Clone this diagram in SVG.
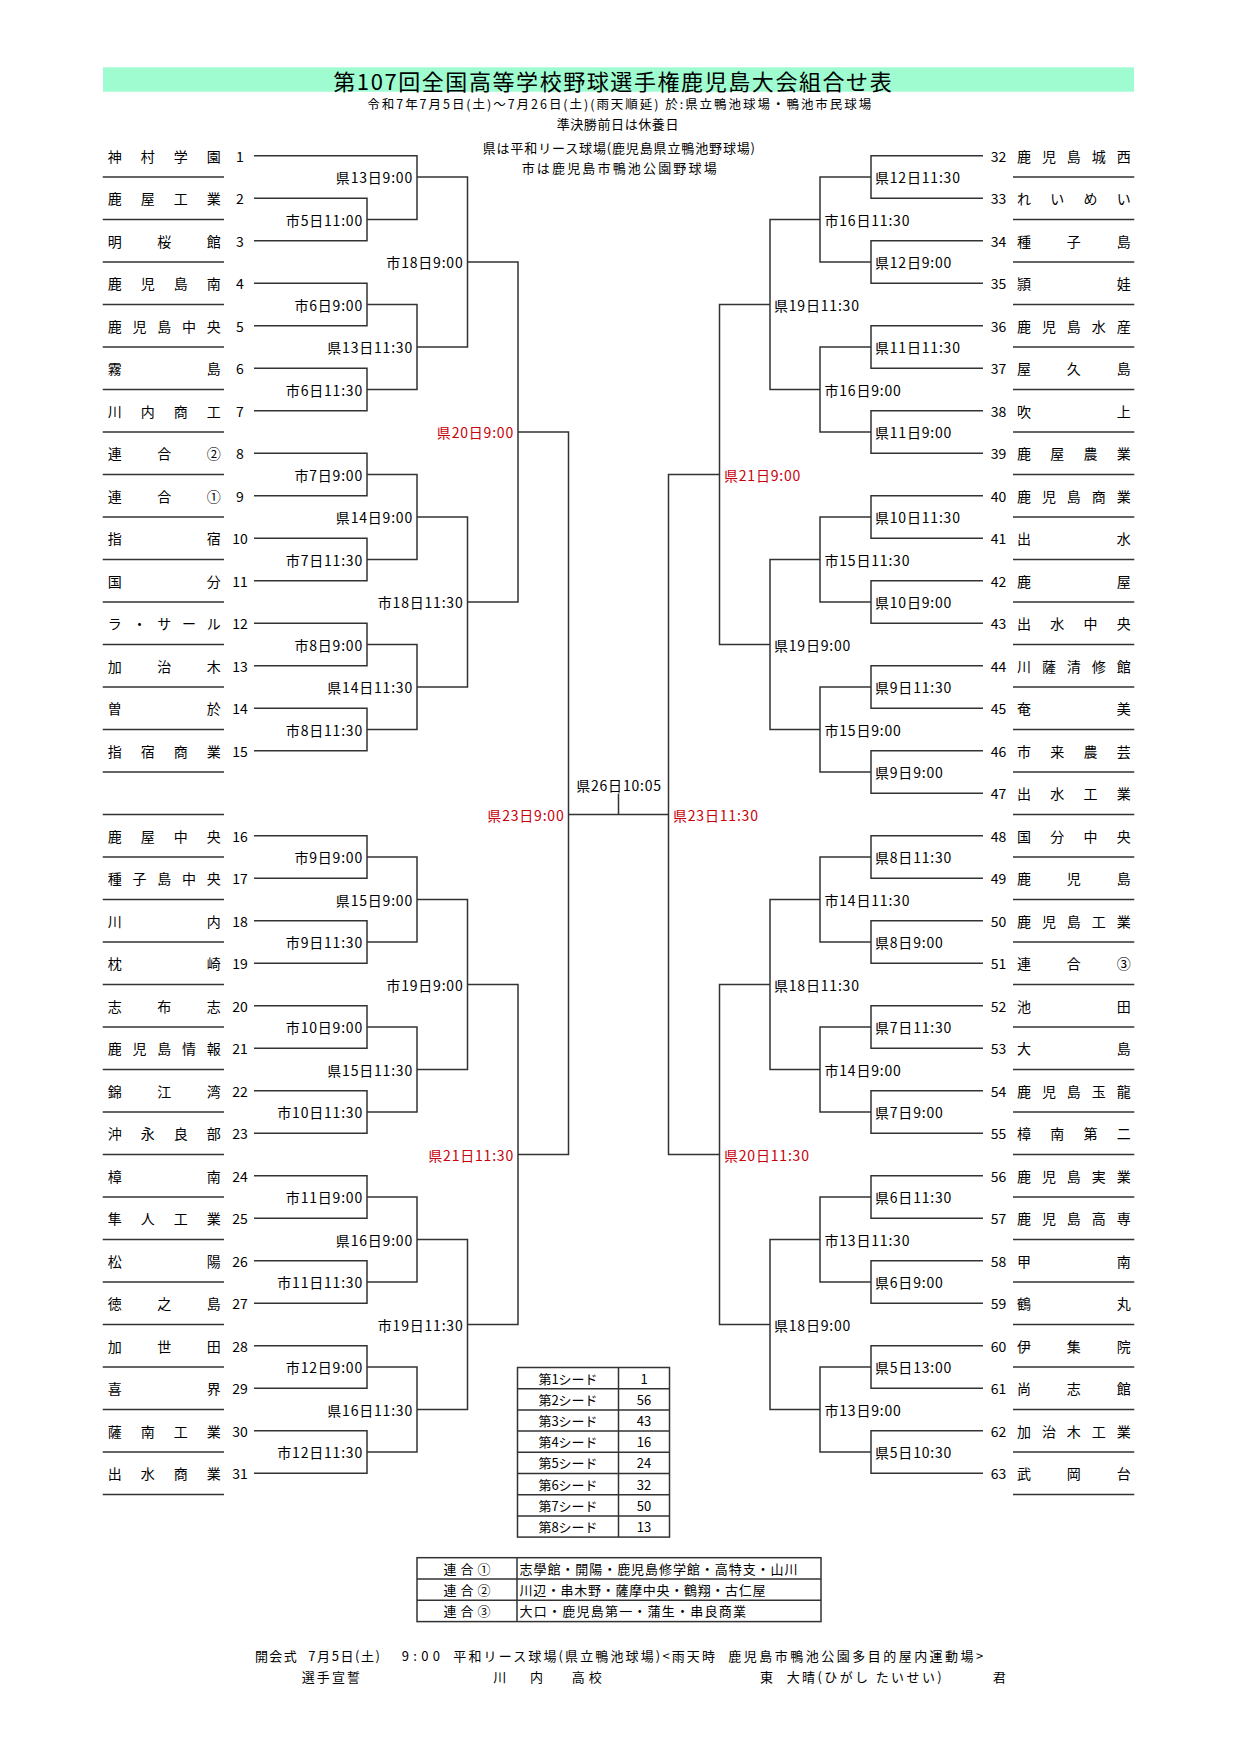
<svg xmlns="http://www.w3.org/2000/svg" width="1240" height="1754" viewBox="0 0 1240 1754">
<style>
text{font-family:"Noto Sans CJK JP","Noto Sans CJK SC",sans-serif;fill:#000;dominant-baseline:central}
.nm{font-size:14px}
.no{font-size:14px;text-anchor:middle}
.lb{font-size:14px;letter-spacing:0.8px}
.e{text-anchor:end}
.red{fill:#c8000a}
.hd{font-size:13px}
.ln{fill:none;stroke:#333;stroke-width:1.5}
.ul{fill:none;stroke:#333;stroke-width:1.4}
.tb{fill:none;stroke:#333;stroke-width:1.5}
.sm{font-size:13px}
.c{text-anchor:middle}
</style>
<rect width="1240" height="1754" fill="#fff"/>

<g id="header">
<rect x="103" y="67.3" width="1031" height="24.4" fill="#9ffcd0"/>
<text x="333.3" y="79.5" font-size="22" textLength="558.4">第107回全国高等学校野球選手権鹿児島大会組合せ表</text>
<text x="367.3" y="103.3" font-size="12.5" textLength="504">令和7年7月5日(土)～7月26日(土)(雨天順延) 於:県立鴨池球場・鴨池市民球場</text>
<text class="hd" x="556.7" y="123.3" textLength="121.7">準決勝前日は休養日</text>
<text class="hd" x="482.7" y="147.3" textLength="272.3">県は平和リース球場(鹿児島県立鴨池野球場)</text>
<text class="hd" x="521.7" y="167.3" textLength="195">市は鹿児島市鴨池公園野球場</text>
</g>

<g id="underlines">
<path class="ul" d="M102.7 177H224M102.7 219.5H224M102.7 262H224M102.7 304.5H224M102.7 347H224M102.7 389.5H224M102.7 432H224M102.7 474.5H224M102.7 517H224M102.7 559.5H224M102.7 602H224M102.7 644.5H224M102.7 687H224M102.7 729.5H224M102.7 772H224M102.7 814.5H224M102.7 857H224M102.7 899.5H224M102.7 942H224M102.7 984.5H224M102.7 1027H224M102.7 1069.5H224M102.7 1112H224M102.7 1154.5H224M102.7 1197H224M102.7 1239.5H224M102.7 1282H224M102.7 1324.5H224M102.7 1367H224M102.7 1409.5H224M102.7 1452H224M102.7 1494.5H224"/>
<path class="ul" d="M1013 177H1134.3M1013 219.5H1134.3M1013 262H1134.3M1013 304.5H1134.3M1013 347H1134.3M1013 389.5H1134.3M1013 432H1134.3M1013 474.5H1134.3M1013 517H1134.3M1013 559.5H1134.3M1013 602H1134.3M1013 644.5H1134.3M1013 687H1134.3M1013 729.5H1134.3M1013 772H1134.3M1013 814.5H1134.3M1013 857H1134.3M1013 899.5H1134.3M1013 942H1134.3M1013 984.5H1134.3M1013 1027H1134.3M1013 1069.5H1134.3M1013 1112H1134.3M1013 1154.5H1134.3M1013 1197H1134.3M1013 1239.5H1134.3M1013 1282H1134.3M1013 1324.5H1134.3M1013 1367H1134.3M1013 1409.5H1134.3M1013 1452H1134.3M1013 1494.5H1134.3"/>
</g>

<g id="connectors">
<path class="ln" d="M254 198.25H367V240.75H254"/>
<path class="ln" d="M254 283.25H367V325.75H254"/>
<path class="ln" d="M254 368.25H367V410.75H254"/>
<path class="ln" d="M254 453.25H367V495.75H254"/>
<path class="ln" d="M254 538.25H367V580.75H254"/>
<path class="ln" d="M254 623.25H367V665.75H254"/>
<path class="ln" d="M254 708.25H367V750.75H254"/>
<path class="ln" d="M254 835.75H367V878.25H254"/>
<path class="ln" d="M254 920.75H367V963.25H254"/>
<path class="ln" d="M254 1005.75H367V1048.25H254"/>
<path class="ln" d="M254 1090.75H367V1133.25H254"/>
<path class="ln" d="M254 1175.75H367V1218.25H254"/>
<path class="ln" d="M254 1260.75H367V1303.25H254"/>
<path class="ln" d="M254 1345.75H367V1388.25H254"/>
<path class="ln" d="M254 1430.75H367V1473.25H254"/>
<path class="ln" d="M254 155.75H417V219.5H367"/>
<path class="ln" d="M367 304.5H417V389.5H367"/>
<path class="ln" d="M367 474.5H417V559.5H367"/>
<path class="ln" d="M367 644.5H417V729.5H367"/>
<path class="ln" d="M367 857H417V942H367"/>
<path class="ln" d="M367 1027H417V1112H367"/>
<path class="ln" d="M367 1197H417V1282H367"/>
<path class="ln" d="M367 1367H417V1452H367"/>
<path class="ln" d="M417 177H467.5V347H417"/>
<path class="ln" d="M417 517H467.5V687H417"/>
<path class="ln" d="M417 899.5H467.5V1069.5H417"/>
<path class="ln" d="M417 1239.5H467.5V1409.5H417"/>
<path class="ln" d="M467.5 262H518V602H467.5"/>
<path class="ln" d="M467.5 984.5H518V1324.5H467.5"/>
<path class="ln" d="M518 432H568.5V1154.5H518"/>
<path class="ln" d="M983 155.75H871V198.25H983"/>
<path class="ln" d="M983 240.75H871V283.25H983"/>
<path class="ln" d="M983 325.75H871V368.25H983"/>
<path class="ln" d="M983 410.75H871V453.25H983"/>
<path class="ln" d="M983 495.75H871V538.25H983"/>
<path class="ln" d="M983 580.75H871V623.25H983"/>
<path class="ln" d="M983 665.75H871V708.25H983"/>
<path class="ln" d="M983 750.75H871V793.25H983"/>
<path class="ln" d="M983 835.75H871V878.25H983"/>
<path class="ln" d="M983 920.75H871V963.25H983"/>
<path class="ln" d="M983 1005.75H871V1048.25H983"/>
<path class="ln" d="M983 1090.75H871V1133.25H983"/>
<path class="ln" d="M983 1175.75H871V1218.25H983"/>
<path class="ln" d="M983 1260.75H871V1303.25H983"/>
<path class="ln" d="M983 1345.75H871V1388.25H983"/>
<path class="ln" d="M983 1430.75H871V1473.25H983"/>
<path class="ln" d="M871 177H820V262H871"/>
<path class="ln" d="M871 347H820V432H871"/>
<path class="ln" d="M871 517H820V602H871"/>
<path class="ln" d="M871 687H820V772H871"/>
<path class="ln" d="M871 857H820V942H871"/>
<path class="ln" d="M871 1027H820V1112H871"/>
<path class="ln" d="M871 1197H820V1282H871"/>
<path class="ln" d="M871 1367H820V1452H871"/>
<path class="ln" d="M820 219.5H770V389.5H820"/>
<path class="ln" d="M820 559.5H770V729.5H820"/>
<path class="ln" d="M820 899.5H770V1069.5H820"/>
<path class="ln" d="M820 1239.5H770V1409.5H820"/>
<path class="ln" d="M770 304.5H719.5V644.5H770"/>
<path class="ln" d="M770 984.5H719.5V1324.5H770"/>
<path class="ln" d="M719.5 474.5H668.5V1154.5H719.5"/>
<path class="ln" d="M568.5 814.5H668.5M618.5 793.5V814.5"/>
</g>

<g id="teams-left">
<g id="team-1" transform="translate(0 155.75)"><text class="nm" x="107.7 140.7 173.7 206.7">神村学園</text><text class="no" x="240">1</text></g>
<g id="team-2" transform="translate(0 198.25)"><text class="nm" x="107.7 140.7 173.7 206.7">鹿屋工業</text><text class="no" x="240">2</text></g>
<g id="team-3" transform="translate(0 240.75)"><text class="nm" x="107.7 157.2 206.7">明桜館</text><text class="no" x="240">3</text></g>
<g id="team-4" transform="translate(0 283.25)"><text class="nm" x="107.7 140.7 173.7 206.7">鹿児島南</text><text class="no" x="240">4</text></g>
<g id="team-5" transform="translate(0 325.75)"><text class="nm" x="107.7 132.45 157.2 181.95 206.7">鹿児島中央</text><text class="no" x="240">5</text></g>
<g id="team-6" transform="translate(0 368.25)"><text class="nm" x="107.7 206.7">霧島</text><text class="no" x="240">6</text></g>
<g id="team-7" transform="translate(0 410.75)"><text class="nm" x="107.7 140.7 173.7 206.7">川内商工</text><text class="no" x="240">7</text></g>
<g id="team-8" transform="translate(0 453.25)"><text class="nm" x="107.7 157.2 206.7">連合②</text><text class="no" x="240">8</text></g>
<g id="team-9" transform="translate(0 495.75)"><text class="nm" x="107.7 157.2 206.7">連合①</text><text class="no" x="240">9</text></g>
<g id="team-10" transform="translate(0 538.25)"><text class="nm" x="107.7 206.7">指宿</text><text class="no" x="240">10</text></g>
<g id="team-11" transform="translate(0 580.75)"><text class="nm" x="107.7 206.7">国分</text><text class="no" x="240">11</text></g>
<g id="team-12" transform="translate(0 623.25)"><text class="nm" x="107.7 132.45 157.2 181.95 206.7">ラ・サール</text><text class="no" x="240">12</text></g>
<g id="team-13" transform="translate(0 665.75)"><text class="nm" x="107.7 157.2 206.7">加治木</text><text class="no" x="240">13</text></g>
<g id="team-14" transform="translate(0 708.25)"><text class="nm" x="107.7 206.7">曽於</text><text class="no" x="240">14</text></g>
<g id="team-15" transform="translate(0 750.75)"><text class="nm" x="107.7 140.7 173.7 206.7">指宿商業</text><text class="no" x="240">15</text></g>
<g id="team-16" transform="translate(0 835.75)"><text class="nm" x="107.7 140.7 173.7 206.7">鹿屋中央</text><text class="no" x="240">16</text></g>
<g id="team-17" transform="translate(0 878.25)"><text class="nm" x="107.7 132.45 157.2 181.95 206.7">種子島中央</text><text class="no" x="240">17</text></g>
<g id="team-18" transform="translate(0 920.75)"><text class="nm" x="107.7 206.7">川内</text><text class="no" x="240">18</text></g>
<g id="team-19" transform="translate(0 963.25)"><text class="nm" x="107.7 206.7">枕崎</text><text class="no" x="240">19</text></g>
<g id="team-20" transform="translate(0 1005.75)"><text class="nm" x="107.7 157.2 206.7">志布志</text><text class="no" x="240">20</text></g>
<g id="team-21" transform="translate(0 1048.25)"><text class="nm" x="107.7 132.45 157.2 181.95 206.7">鹿児島情報</text><text class="no" x="240">21</text></g>
<g id="team-22" transform="translate(0 1090.75)"><text class="nm" x="107.7 157.2 206.7">錦江湾</text><text class="no" x="240">22</text></g>
<g id="team-23" transform="translate(0 1133.25)"><text class="nm" x="107.7 140.7 173.7 206.7">沖永良部</text><text class="no" x="240">23</text></g>
<g id="team-24" transform="translate(0 1175.75)"><text class="nm" x="107.7 206.7">樟南</text><text class="no" x="240">24</text></g>
<g id="team-25" transform="translate(0 1218.25)"><text class="nm" x="107.7 140.7 173.7 206.7">隼人工業</text><text class="no" x="240">25</text></g>
<g id="team-26" transform="translate(0 1260.75)"><text class="nm" x="107.7 206.7">松陽</text><text class="no" x="240">26</text></g>
<g id="team-27" transform="translate(0 1303.25)"><text class="nm" x="107.7 157.2 206.7">徳之島</text><text class="no" x="240">27</text></g>
<g id="team-28" transform="translate(0 1345.75)"><text class="nm" x="107.7 157.2 206.7">加世田</text><text class="no" x="240">28</text></g>
<g id="team-29" transform="translate(0 1388.25)"><text class="nm" x="107.7 206.7">喜界</text><text class="no" x="240">29</text></g>
<g id="team-30" transform="translate(0 1430.75)"><text class="nm" x="107.7 140.7 173.7 206.7">薩南工業</text><text class="no" x="240">30</text></g>
<g id="team-31" transform="translate(0 1473.25)"><text class="nm" x="107.7 140.7 173.7 206.7">出水商業</text><text class="no" x="240">31</text></g>
</g>

<g id="teams-right">
<g id="team-32" transform="translate(0 155.75)"><text class="no" x="998.5">32</text><text class="nm" x="1017 1041.9 1066.85 1091.8 1116.7">鹿児島城西</text></g>
<g id="team-33" transform="translate(0 198.25)"><text class="no" x="998.5">33</text><text class="nm" x="1017 1050.2 1083.5 1116.7">れいめい</text></g>
<g id="team-34" transform="translate(0 240.75)"><text class="no" x="998.5">34</text><text class="nm" x="1017 1066.85 1116.7">種子島</text></g>
<g id="team-35" transform="translate(0 283.25)"><text class="no" x="998.5">35</text><text class="nm" x="1017 1116.7">頴娃</text></g>
<g id="team-36" transform="translate(0 325.75)"><text class="no" x="998.5">36</text><text class="nm" x="1017 1041.9 1066.85 1091.8 1116.7">鹿児島水産</text></g>
<g id="team-37" transform="translate(0 368.25)"><text class="no" x="998.5">37</text><text class="nm" x="1017 1066.85 1116.7">屋久島</text></g>
<g id="team-38" transform="translate(0 410.75)"><text class="no" x="998.5">38</text><text class="nm" x="1017 1116.7">吹上</text></g>
<g id="team-39" transform="translate(0 453.25)"><text class="no" x="998.5">39</text><text class="nm" x="1017 1050.2 1083.5 1116.7">鹿屋農業</text></g>
<g id="team-40" transform="translate(0 495.75)"><text class="no" x="998.5">40</text><text class="nm" x="1017 1041.9 1066.85 1091.8 1116.7">鹿児島商業</text></g>
<g id="team-41" transform="translate(0 538.25)"><text class="no" x="998.5">41</text><text class="nm" x="1017 1116.7">出水</text></g>
<g id="team-42" transform="translate(0 580.75)"><text class="no" x="998.5">42</text><text class="nm" x="1017 1116.7">鹿屋</text></g>
<g id="team-43" transform="translate(0 623.25)"><text class="no" x="998.5">43</text><text class="nm" x="1017 1050.2 1083.5 1116.7">出水中央</text></g>
<g id="team-44" transform="translate(0 665.75)"><text class="no" x="998.5">44</text><text class="nm" x="1017 1041.9 1066.85 1091.8 1116.7">川薩清修館</text></g>
<g id="team-45" transform="translate(0 708.25)"><text class="no" x="998.5">45</text><text class="nm" x="1017 1116.7">奄美</text></g>
<g id="team-46" transform="translate(0 750.75)"><text class="no" x="998.5">46</text><text class="nm" x="1017 1050.2 1083.5 1116.7">市来農芸</text></g>
<g id="team-47" transform="translate(0 793.25)"><text class="no" x="998.5">47</text><text class="nm" x="1017 1050.2 1083.5 1116.7">出水工業</text></g>
<g id="team-48" transform="translate(0 835.75)"><text class="no" x="998.5">48</text><text class="nm" x="1017 1050.2 1083.5 1116.7">国分中央</text></g>
<g id="team-49" transform="translate(0 878.25)"><text class="no" x="998.5">49</text><text class="nm" x="1017 1066.85 1116.7">鹿児島</text></g>
<g id="team-50" transform="translate(0 920.75)"><text class="no" x="998.5">50</text><text class="nm" x="1017 1041.9 1066.85 1091.8 1116.7">鹿児島工業</text></g>
<g id="team-51" transform="translate(0 963.25)"><text class="no" x="998.5">51</text><text class="nm" x="1017 1066.85 1116.7">連合③</text></g>
<g id="team-52" transform="translate(0 1005.75)"><text class="no" x="998.5">52</text><text class="nm" x="1017 1116.7">池田</text></g>
<g id="team-53" transform="translate(0 1048.25)"><text class="no" x="998.5">53</text><text class="nm" x="1017 1116.7">大島</text></g>
<g id="team-54" transform="translate(0 1090.75)"><text class="no" x="998.5">54</text><text class="nm" x="1017 1041.9 1066.85 1091.8 1116.7">鹿児島玉龍</text></g>
<g id="team-55" transform="translate(0 1133.25)"><text class="no" x="998.5">55</text><text class="nm" x="1017 1050.2 1083.5 1116.7">樟南第二</text></g>
<g id="team-56" transform="translate(0 1175.75)"><text class="no" x="998.5">56</text><text class="nm" x="1017 1041.9 1066.85 1091.8 1116.7">鹿児島実業</text></g>
<g id="team-57" transform="translate(0 1218.25)"><text class="no" x="998.5">57</text><text class="nm" x="1017 1041.9 1066.85 1091.8 1116.7">鹿児島高専</text></g>
<g id="team-58" transform="translate(0 1260.75)"><text class="no" x="998.5">58</text><text class="nm" x="1017 1116.7">甲南</text></g>
<g id="team-59" transform="translate(0 1303.25)"><text class="no" x="998.5">59</text><text class="nm" x="1017 1116.7">鶴丸</text></g>
<g id="team-60" transform="translate(0 1345.75)"><text class="no" x="998.5">60</text><text class="nm" x="1017 1066.85 1116.7">伊集院</text></g>
<g id="team-61" transform="translate(0 1388.25)"><text class="no" x="998.5">61</text><text class="nm" x="1017 1066.85 1116.7">尚志館</text></g>
<g id="team-62" transform="translate(0 1430.75)"><text class="no" x="998.5">62</text><text class="nm" x="1017 1041.9 1066.85 1091.8 1116.7">加治木工業</text></g>
<g id="team-63" transform="translate(0 1473.25)"><text class="no" x="998.5">63</text><text class="nm" x="1017 1066.85 1116.7">武岡台</text></g>
</g>

<g id="labels-left">
<g id="m-l1-1"><text class="lb e" x="363" y="219.5">市5日11:00</text></g>
<g id="m-l1-2"><text class="lb e" x="363" y="304.5">市6日9:00</text></g>
<g id="m-l1-3"><text class="lb e" x="363" y="389.5">市6日11:30</text></g>
<g id="m-l1-4"><text class="lb e" x="363" y="474.5">市7日9:00</text></g>
<g id="m-l1-5"><text class="lb e" x="363" y="559.5">市7日11:30</text></g>
<g id="m-l1-6"><text class="lb e" x="363" y="644.5">市8日9:00</text></g>
<g id="m-l1-7"><text class="lb e" x="363" y="729.5">市8日11:30</text></g>
<g id="m-l1-8"><text class="lb e" x="363" y="857">市9日9:00</text></g>
<g id="m-l1-9"><text class="lb e" x="363" y="942">市9日11:30</text></g>
<g id="m-l1-10"><text class="lb e" x="363" y="1027">市10日9:00</text></g>
<g id="m-l1-11"><text class="lb e" x="363" y="1112">市10日11:30</text></g>
<g id="m-l1-12"><text class="lb e" x="363" y="1197">市11日9:00</text></g>
<g id="m-l1-13"><text class="lb e" x="363" y="1282">市11日11:30</text></g>
<g id="m-l1-14"><text class="lb e" x="363" y="1367">市12日9:00</text></g>
<g id="m-l1-15"><text class="lb e" x="363" y="1452">市12日11:30</text></g>
<g id="m-l2-1"><text class="lb e" x="413" y="177">県13日9:00</text></g>
<g id="m-l2-2"><text class="lb e" x="413" y="347">県13日11:30</text></g>
<g id="m-l2-3"><text class="lb e" x="413" y="517">県14日9:00</text></g>
<g id="m-l2-4"><text class="lb e" x="413" y="687">県14日11:30</text></g>
<g id="m-l2-5"><text class="lb e" x="413" y="899.5">県15日9:00</text></g>
<g id="m-l2-6"><text class="lb e" x="413" y="1069.5">県15日11:30</text></g>
<g id="m-l2-7"><text class="lb e" x="413" y="1239.5">県16日9:00</text></g>
<g id="m-l2-8"><text class="lb e" x="413" y="1409.5">県16日11:30</text></g>
<g id="m-l3-1"><text class="lb e" x="463.5" y="262">市18日9:00</text></g>
<g id="m-l3-2"><text class="lb e" x="463.5" y="602">市18日11:30</text></g>
<g id="m-l3-3"><text class="lb e" x="463.5" y="984.5">市19日9:00</text></g>
<g id="m-l3-4"><text class="lb e" x="463.5" y="1324.5">市19日11:30</text></g>
<g id="m-l4-1"><text class="lb e red" x="514" y="432">県20日9:00</text></g>
<g id="m-l4-2"><text class="lb e red" x="514" y="1154.5">県21日11:30</text></g>
<g id="m-l5"><text class="lb e red" x="564.5" y="814.5">県23日9:00</text></g>
</g>

<g id="labels-right">
<g id="m-r1-1"><text class="lb" x="875" y="177">県12日11:30</text></g>
<g id="m-r1-2"><text class="lb" x="875" y="262">県12日9:00</text></g>
<g id="m-r1-3"><text class="lb" x="875" y="347">県11日11:30</text></g>
<g id="m-r1-4"><text class="lb" x="875" y="432">県11日9:00</text></g>
<g id="m-r1-5"><text class="lb" x="875" y="517">県10日11:30</text></g>
<g id="m-r1-6"><text class="lb" x="875" y="602">県10日9:00</text></g>
<g id="m-r1-7"><text class="lb" x="875" y="687">県9日11:30</text></g>
<g id="m-r1-8"><text class="lb" x="875" y="772">県9日9:00</text></g>
<g id="m-r1-9"><text class="lb" x="875" y="857">県8日11:30</text></g>
<g id="m-r1-10"><text class="lb" x="875" y="942">県8日9:00</text></g>
<g id="m-r1-11"><text class="lb" x="875" y="1027">県7日11:30</text></g>
<g id="m-r1-12"><text class="lb" x="875" y="1112">県7日9:00</text></g>
<g id="m-r1-13"><text class="lb" x="875" y="1197">県6日11:30</text></g>
<g id="m-r1-14"><text class="lb" x="875" y="1282">県6日9:00</text></g>
<g id="m-r1-15"><text class="lb" x="875" y="1367">県5日13:00</text></g>
<g id="m-r1-16"><text class="lb" x="875" y="1452">県5日10:30</text></g>
<g id="m-r2-1"><text class="lb" x="824.5" y="219.5">市16日11:30</text></g>
<g id="m-r2-2"><text class="lb" x="824.5" y="389.5">市16日9:00</text></g>
<g id="m-r2-3"><text class="lb" x="824.5" y="559.5">市15日11:30</text></g>
<g id="m-r2-4"><text class="lb" x="824.5" y="729.5">市15日9:00</text></g>
<g id="m-r2-5"><text class="lb" x="824.5" y="899.5">市14日11:30</text></g>
<g id="m-r2-6"><text class="lb" x="824.5" y="1069.5">市14日9:00</text></g>
<g id="m-r2-7"><text class="lb" x="824.5" y="1239.5">市13日11:30</text></g>
<g id="m-r2-8"><text class="lb" x="824.5" y="1409.5">市13日9:00</text></g>
<g id="m-r3-1"><text class="lb" x="774" y="304.5">県19日11:30</text></g>
<g id="m-r3-2"><text class="lb" x="774" y="644.5">県19日9:00</text></g>
<g id="m-r3-3"><text class="lb" x="774" y="984.5">県18日11:30</text></g>
<g id="m-r3-4"><text class="lb" x="774" y="1324.5">県18日9:00</text></g>
<g id="m-r4-1"><text class="lb red" x="724" y="474.5">県21日9:00</text></g>
<g id="m-r4-2"><text class="lb red" x="724" y="1154.5">県20日11:30</text></g>
<g id="m-r5"><text class="lb red" x="673" y="814.5">県23日11:30</text></g>
<g id="m-final"><text class="lb c" x="619" y="785">県26日10:05</text></g>
</g>

<g id="seed-table">
<rect class="tb" x="517.5" y="1367.5" width="152" height="169.6" stroke-width="2"/>
<path class="tb" d="M618.5 1367.5V1537.1M517.5 1388.7H669.5M517.5 1409.9H669.5M517.5 1431.1H669.5M517.5 1452.3H669.5M517.5 1473.5H669.5M517.5 1494.7H669.5M517.5 1515.9H669.5"/>
<text class="sm c" x="568" y="1378.1">第1シード</text><text class="sm c" x="644" y="1378.1">1</text>
<text class="sm c" x="568" y="1399.3">第2シード</text><text class="sm c" x="644" y="1399.3">56</text>
<text class="sm c" x="568" y="1420.5">第3シード</text><text class="sm c" x="644" y="1420.5">43</text>
<text class="sm c" x="568" y="1441.7">第4シード</text><text class="sm c" x="644" y="1441.7">16</text>
<text class="sm c" x="568" y="1462.9">第5シード</text><text class="sm c" x="644" y="1462.9">24</text>
<text class="sm c" x="568" y="1484.1">第6シード</text><text class="sm c" x="644" y="1484.1">32</text>
<text class="sm c" x="568" y="1505.3">第7シード</text><text class="sm c" x="644" y="1505.3">50</text>
<text class="sm c" x="568" y="1526.5">第8シード</text><text class="sm c" x="644" y="1526.5">13</text>
</g>

<g id="rengo-table">
<rect class="tb" x="417" y="1557.7" width="404" height="63.9" stroke-width="2"/>
<path class="tb" d="M517 1557.7V1621.6M417 1579H821M417 1600.3H821"/>
<text class="sm" x="443.5" y="1568.35" textLength="47">連合①</text>
<text class="sm" x="443.5" y="1589.65" textLength="47">連合②</text>
<text class="sm" x="443.5" y="1610.95" textLength="47">連合③</text>
<text class="sm" x="519.5" y="1568.35" textLength="278">志學館・開陽・鹿児島修学館・高特支・山川</text>
<text class="sm" x="519.5" y="1589.65" textLength="246">川辺・串木野・薩摩中央・鶴翔・古仁屋</text>
<text class="sm" x="519.5" y="1610.95" textLength="226.5">大口・鹿児島第一・蒲生・串良商業</text>
</g>

<g id="footer">
<text class="sm" x="255" y="1655" textLength="41.7">開会式</text>
<text class="sm" x="308.3" y="1655" textLength="71.7">7月5日(土)</text>
<text class="sm" x="401.7" y="1655" textLength="38.3">9:00</text>
<text class="sm" x="453.3" y="1655" textLength="261.7">平和リース球場(県立鴨池球場)&lt;雨天時</text>
<text class="sm" x="728.3" y="1655" textLength="255">鹿児島市鴨池公園多目的屋内運動場&gt;</text>
<text class="sm" x="301.7" y="1676.7" textLength="58.3">選手宣誓</text>
<text class="sm" x="493.3" y="1676.7">川</text>
<text class="sm" x="530" y="1676.7">内</text>
<text class="sm" x="571.7" y="1676.7" textLength="30">高校</text>
<text class="sm" x="760" y="1676.7">東</text>
<text class="sm" x="786.7" y="1676.7" textLength="155">大晴(ひがし たいせい)</text>
<text class="sm" x="992.7" y="1676.7">君</text>
</g>
</svg>
